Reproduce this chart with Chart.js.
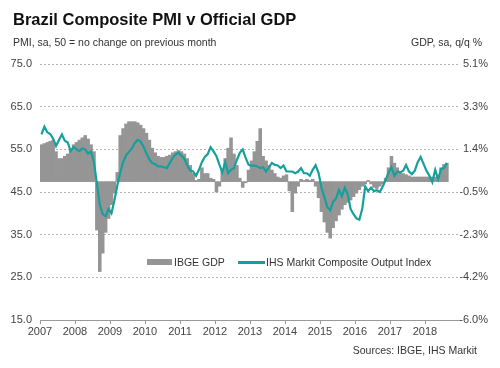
<!DOCTYPE html>
<html>
<head>
<meta charset="utf-8">
<script src="https://cdn.jsdelivr.net/npm/chart.js@4"></script>
<style>
  body { margin: 0; background: #fff; font-family: Arial, "Liberation Sans", sans-serif; }
  #wrap { position: relative; width: 500px; height: 368px; overflow: hidden; }
  canvas { position: absolute; left: 0; top: 0; }
  .t { position: absolute; white-space: nowrap; line-height: 1; color: #333; }
</style>
</head>
<body>
<div id="wrap">
  <canvas id="c" width="500" height="368"></canvas>
  <div class="t" style="left:13px;top:11px;font-size:16.5px;font-weight:bold;color:#111">Brazil Composite PMI v Official GDP</div>
  <div class="t" style="left:13px;top:37px;font-size:10.5px">PMI, sa, 50 = no change on previous month</div>
  <div class="t" style="right:18px;top:37px;font-size:10.5px">GDP, sa, q/q %</div>
  <div class="t" style="left:147px;top:259px;width:25px;height:6px;background:#959595"></div>
  <div class="t" style="left:174px;top:257px;font-size:10.5px">IBGE GDP</div>
  <div class="t" style="left:238px;top:261px;width:27px;height:2.5px;background:#16a09c"></div>
  <div class="t" style="left:266px;top:257px;font-size:10.5px">IHS Markit Composite Output Index</div>
  <div class="t" style="right:23px;top:345px;font-size:10.5px">Sources: IBGE, IHS Markit</div>
</div>
<script>
const years = ['2007', '2008', '2009', '2010', '2011', '2012', '2013', '2014', '2015', '2016', '2017', '2018'];
const leftTicks = [15, 25, 35, 45, 55, 65, 75];
const rightTicks = [-6.0, -4.15, -2.3, -0.45, 1.4, 3.25, 5.1];
const rightLabels = ['-6.0%', '-4.2%', '-2.3%', '-0.5%', '1.4%', '3.3%', '5.1%'];

// IHS Markit composite output index, monthly from Jan 2007
const pmi = [
  58.5, 60.3, 59.0, 58.6, 57.5, 55.8, 57.2, 58.5, 57.0, 56.6, 54.6, 55.6,
  55.0, 54.6, 55.2, 55.0, 54.0, 54.5, 52.0, 47.0, 42.0, 39.8, 39.3, 41.0,
  40.0, 43.0, 46.5, 49.5, 52.0, 53.6, 54.4, 55.2, 56.5, 57.2, 56.8, 55.6,
  54.0, 52.6, 51.8, 51.5, 51.0, 51.0, 50.8, 50.6, 51.8, 53.0, 53.8, 54.2,
  53.5, 52.8, 51.2, 50.0, 49.8, 48.8, 50.2, 52.0, 53.2, 53.9, 55.5, 54.5,
  53.4, 51.4, 49.6, 52.0, 49.4, 50.2, 50.6, 52.5, 54.2, 55.0, 53.0, 51.4,
  51.2, 51.2, 51.0, 50.6, 50.8, 49.8, 50.8, 51.8, 51.4, 51.2, 50.6, 51.2,
  49.8, 49.8, 49.8, 49.4, 49.8, 50.6, 49.4, 49.4, 48.8, 50.2, 51.3, 49.5,
  46.0, 43.8, 41.5, 40.7, 42.7, 43.5, 45.5, 44.0, 46.0, 44.5, 41.0, 39.8,
  38.8, 38.5, 41.1, 46.3, 45.2, 46.0, 45.2, 45.4, 45.0, 46.3, 47.8, 49.5,
  50.8, 48.8, 49.8, 49.6, 50.0, 51.3, 49.8, 49.2, 50.0, 52.0, 53.2, 51.6,
  50.0, 48.8, 47.3, 50.2, 48.0, 50.4, 50.6, 51.8
];

// IBGE GDP, % q/q, monthly steps from Jan 2007
const gdp = [
  1.6, 1.65, 1.7, 1.75, 1.8, 1.3, 1.0, 1.0, 1.1, 1.2, 1.4, 1.6,
  1.7, 1.8, 1.9, 2.0, 1.85, 1.6, 1.3, -2.1, -3.9, -3.1, -2.2, -1.6,
  -1.0, -0.5, 0.4, 2.0, 2.3, 2.5, 2.6, 2.6, 2.6, 2.55, 2.45, 2.3,
  2.1, 1.8, 1.45, 1.25, 1.1, 1.05, 1.05, 1.1, 1.15, 1.25, 1.3, 1.35,
  1.3, 1.2, 1.0, 0.7, 0.35, 0.05, 0.1, 0.6, 0.35, 0.35, 0.15, 0.1,
  -0.45, -0.2, 0.5, 1.0, 1.45, 1.9, 1.2, 0.7, 0.15, -0.25, -0.05, 0.5,
  0.9, 1.3, 1.75, 2.3, 1.1, 0.9, 0.7, 0.5, 0.35, 0.2, 0.15, 0.25,
  0.3, -0.4, -1.3, -0.5, -0.2, 0.1, 0.05, 0.1, 0.05, 0.1, -0.2, -0.7,
  -1.3, -1.75, -2.2, -2.45, -2.0, -1.7, -1.45, -1.2, -1.0, -0.9, -0.8, -0.65,
  -0.5, -0.35, -0.2, -0.1, 0.05, -0.1, -0.25, -0.3, -0.2, -0.1, 0.15, 0.6,
  1.1, 0.8, 0.6, 0.45, 0.35, 0.3, 0.25, 0.2, 0.2, 0.2, 0.2, 0.2,
  0.2, 0.2, 0.2, 0.2, 0.25, 0.6, 0.75, 0.8
];

const months = [];
years.forEach(y => { for (let m = 1; m <= 12; m++) months.push(y + '-' + m); });

const tickFont = { family: 'Arial, "Liberation Sans", sans-serif', size: 11 };

new Chart(document.getElementById('c'), {
  data: {
    labels: months,
    datasets: [
      {
        type: 'line',
        label: 'IHS Markit Composite Output Index',
        data: pmi,
        yAxisID: 'y',
        borderColor: '#16a09c',
        borderWidth: 2.2,
        pointRadius: 0,
        tension: 0,
        order: 0
      },
      {
        type: 'bar',
        label: 'IBGE GDP',
        data: gdp,
        yAxisID: 'y1',
        backgroundColor: '#959595',
        borderWidth: 0,
        barPercentage: 1,
        categoryPercentage: 1,
        order: 1
      }
    ]
  },
  options: {
    responsive: false,
    animation: false,
    layout: { padding: { top: 64, bottom: 28, left: 0, right: 12 } },
    plugins: { legend: { display: false }, tooltip: { enabled: false } },
    scales: {
      x: {
        type: 'category',
        offset: true,
        afterFit: s => { s.height = 20; },
        grid: {
          offset: true,
          drawOnChartArea: false,
          tickLength: 4,
          color: ctx => (ctx.index % 12 === 0 ? '#999' : 'rgba(0,0,0,0)')
        },
        border: { color: '#999', width: 1 },
        ticks: {
          autoSkip: false,
          maxRotation: 0,
          padding: 1,
          labelOffset: -1.5,
          color: '#444',
          font: tickFont,
          callback: (v, i) => (i % 12 === 0 ? years[i / 12] : '')
        }
      },
      y: {
        position: 'left',
        min: 15,
        max: 75,
        afterFit: s => { s.width = 40; },
        afterBuildTicks: s => { s.ticks = leftTicks.map(v => ({ value: v })); },
        border: { display: false, dash: [2, 2] },
        grid: { color: '#b5b5b5', drawTicks: false, lineWidth: 1 },
        ticks: {
          padding: 8,
          color: '#444',
          font: tickFont,
          callback: v => v.toFixed(1)
        }
      },
      y1: {
        position: 'right',
        min: -6.0,
        max: 5.1,
        afterFit: s => { s.width = 28; },
        afterBuildTicks: s => { s.ticks = rightTicks.map(v => ({ value: v })); },
        border: { display: false },
        grid: { display: false },
        ticks: {
          crossAlign: 'far',
          color: '#444',
          font: tickFont,
          callback: (v, i) => rightLabels[i]
        }
      }
    }
  }
});
</script>
</body>
</html>
